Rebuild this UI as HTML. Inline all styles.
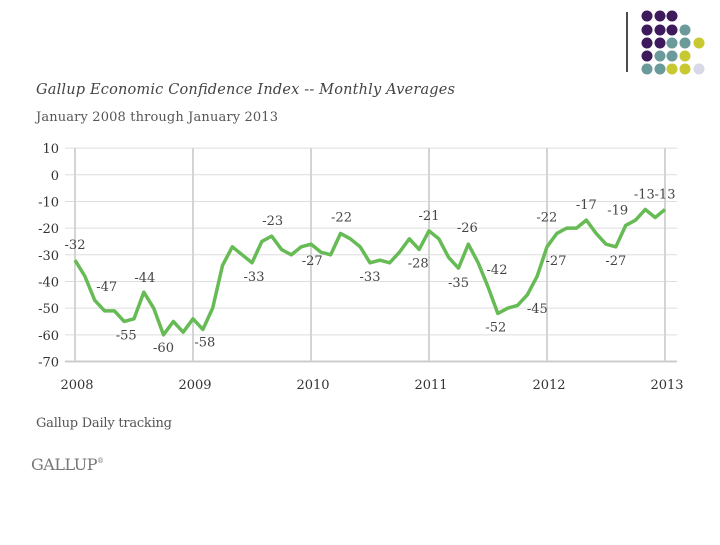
<!DOCTYPE html>
<html><head><meta charset="utf-8"><style>
body{margin:0;background:#fff;width:720px;height:540px;overflow:hidden}
svg text{font-family:"DejaVu Serif","Liberation Serif",serif}
</style></head><body>
<svg width="720" height="540">
<g id="logo"></g>
<line x1="627" y1="12" x2="627" y2="72" stroke="#111" stroke-width="1.5"/>
<text x="36" y="94" font-size="14.5" font-style="italic" fill="#444" textLength="419">Gallup Economic Confidence Index -- Monthly Averages</text>
<text x="36" y="121" font-size="13" fill="#555" textLength="242">January 2008 through January 2013</text>
<text x="36" y="427" font-size="13" fill="#555" textLength="136">Gallup Daily tracking</text>
<text x="31" y="470" font-size="16" fill="#777" letter-spacing="-0.5">GALLUP<tspan font-size="7" dy="-7">®</tspan></text>
<g id="grid"></g><g id="plot"></g>
</svg>
<script>
const yTicks=[10,0,-10,-20,-30,-40,-50,-60,-70];
const years=["2008","2009","2010","2011","2012","2013"];
const values=[-32,-38,-47,-51,-51,-55,-54,-44,-50,-60,-55,-59,
-54,-58,-50,-34,-27,-30,-33,-25,-23,-28,-30,-27,
-26,-29,-30,-22,-24,-27,-33,-32,-33,-29,-24,-28,
-21,-24,-31,-35,-26,-33,-42,-52,-50,-49,-45,-38,
-27,-22,-20,-20,-17,-22,-26,-27,-19,-17,-13,-16,-13];
const labelIdx=[0,2,7,5,9,13,18,20,23,27,30,35,36,40,39,42,43,46,49,48,52,55,56,58,60];
const labelDx=[0,12,1,2,0,2,2,1,11,1,0,-1,0,-1,0,9,-2,10,-10,9,0,0,-8,-1,0];
const labelDy=[-11,-9,-10,18,17,17,18,-11,18,-12,18,18,-11,-12,19,-13,18,18,-12,18,-11,18,-11,-11,-11];
const NS="http://www.w3.org/2000/svg";
const X=i=>75+i*(590/60), Y=v=>174.8-v*2.667;
function mk(p,t,a){const e=document.createElementNS(NS,t);for(const k in a)e.setAttribute(k,a[k]);p.appendChild(e);return e;}
const grid=document.getElementById('grid'),plot=document.getElementById('plot');
yTicks.forEach(v=>{
 const l=mk(grid,'line',{x1:65,x2:677,y1:Y(v),y2:Y(v),stroke:v==-70?'#ccc':'#ddd','stroke-width':v==-70?2:1});
 
 
 const t=mk(grid,'text',{x:59,y:Y(v)+5,'text-anchor':'end','font-size':13,fill:'#333'});t.textContent=v;
 
 
});
years.forEach((y,k)=>{
 const x=X(k*12);
 const l=mk(grid,'line',{x1:x,x2:x,y1:Y(10),y2:Y(-70),stroke:'#d4d4d4','stroke-width':2});
 
 
 const t=mk(grid,'text',{x:x+2,y:389,'text-anchor':'middle','font-size':13,fill:'#333'});t.textContent=y;
 
 
});
const p=mk(plot,'polyline',{points:values.map((v,i)=>X(i)+','+Y(v)).join(' '),fill:'none',stroke:'#66bb55','stroke-width':3.5,'stroke-linejoin':'round'});


labelIdx.forEach((i,k)=>{
 const t=mk(plot,'text',{x:X(i)+labelDx[k],y:Y(values[i])+labelDy[k],'text-anchor':'middle','font-size':13,fill:'#444'});
 t.textContent=values[i];
 
 
});
const P='#3d1a5c',T='#6a9a9a',Yc='#c8c830',L='#d8d8e8';
const rows=[[P,P,P],[P,P,P,T],[P,P,T,T,Yc],[P,T,T,Yc],[T,T,Yc,Yc,L]];
const dx=[647,660,672,685,699],dy=[16,30,43,56,69];
const logo=document.getElementById('logo');
rows.forEach((r,ri)=>r.forEach((c,ci)=>{
 const d=mk(logo,'circle',{cx:dx[ci],cy:dy[ri],r:5.5,fill:c});
 
 
}));
</script>
</body></html>
